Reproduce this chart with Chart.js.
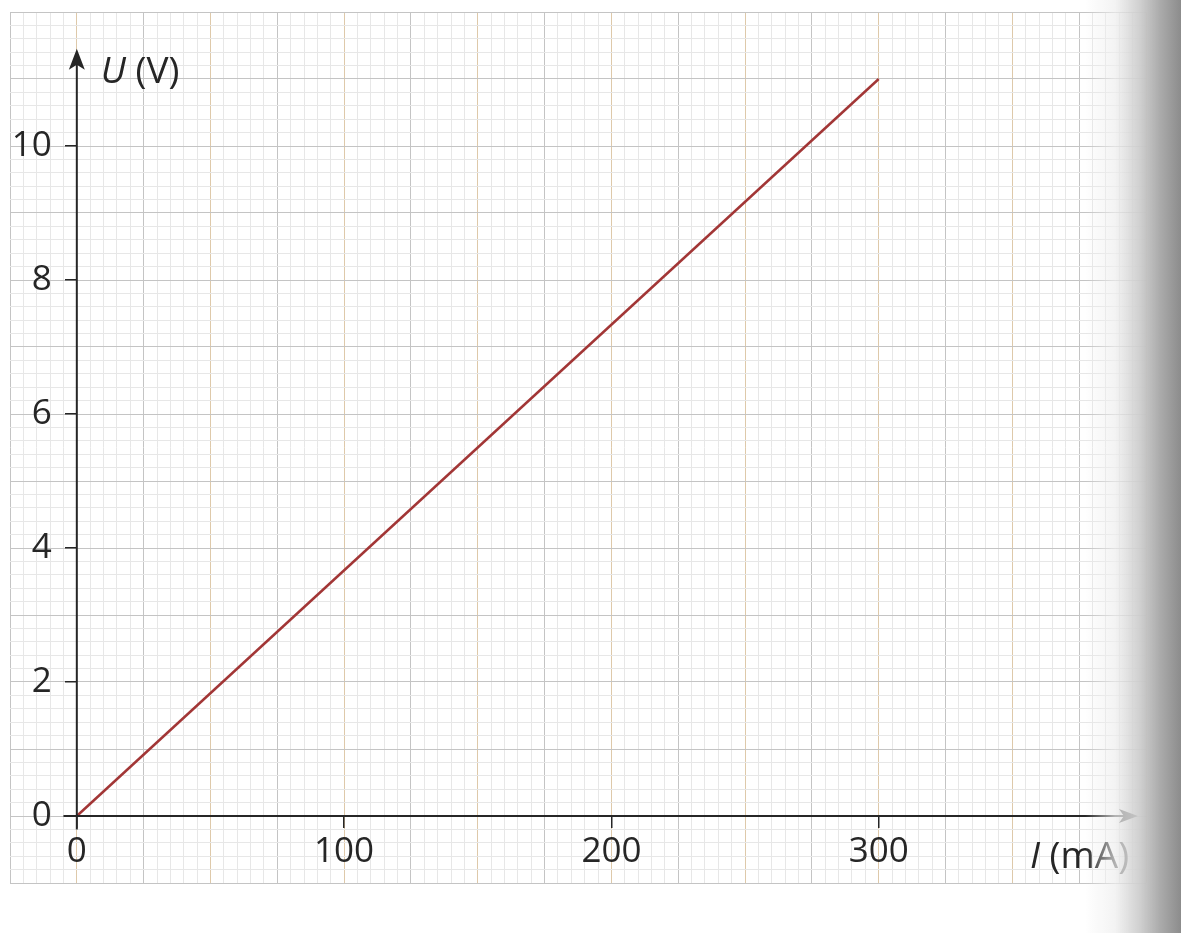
<!DOCTYPE html>
<html><head><meta charset="utf-8">
<script src="https://cdn.jsdelivr.net/npm/chart.js@4/dist/chart.umd.min.js"></script>
<style>
html,body{margin:0;padding:0;background:#fff;}
#wrap{position:relative;width:1181px;height:933px;overflow:hidden;}
#shade{position:absolute;left:0;top:0;width:1181px;height:933px;pointer-events:none;
background:linear-gradient(to right, rgba(255,255,255,0) 1085px, rgba(238,238,238,0.7) 1115px, rgba(205,205,205,0.95) 1140px, #ababab 1160px, #8c8c8c 1181px);}
</style></head><body>
<div id="wrap"><canvas id="c" width="1181" height="933"></canvas><div id="shade"></div></div>
<script>
// Data
const currentI = [0, 300];      // I (mA)
const voltageU = [0, 11];       // U (V)
// Tick labels
const xTickLabels = [0, 100, 200, 300];
const yTickLabels = [0, 2, 4, 6, 8, 10];
// Ranges of the graph paper
const xRange = [-25, 400];
const yRange = [-1, 12];
const xAxisSpan = [-5, 397];
const yAxisSpan = [-0.2, 11.45];

const FONT = "'Open Sans', 'Noto Sans', sans-serif";
const INK = '#262626';
const TICK_FONT = 35;
const TITLE_FONT = 37;

function gridColorX(ctx) {
  const v = Math.round(ctx.tick.value);
  if (v % 50 === 0) return 'rgba(205,172,125,0.65)';
  if (v % 25 === 0) return '#c4c4c4';
  return '#e7e7e7';
}
function gridColorY(ctx) {
  const n = Math.round(ctx.tick.value * 5);
  if (n % 5 === 0) return '#c4c4c4';
  return '#e7e7e7';
}
function zeroPad(s) { s.paddingLeft = 0; s.paddingRight = 0; s.paddingTop = 0; s.paddingBottom = 0; }
// labels of an axis placed at x = 0 are pushed left of the tick marks
function shiftYLabels(s) {
  if (s._shiftPatched) return;
  const orig = s._computeLabelItems.bind(s);
  s._computeLabelItems = (ca) => orig(ca).map(it => { it.options.translation[0] -= 25; return it; });
  s._shiftPatched = true;
}

const axesPlugin = {
  id: 'axesArrows',
  afterDatasetsDraw(chart) {
    const {ctx} = chart;
    const x = chart.scales.x, y = chart.scales.y;
    const x0 = x.getPixelForValue(0), y0 = y.getPixelForValue(0);
    ctx.save();
    ctx.strokeStyle = INK; ctx.fillStyle = INK; ctx.lineWidth = 2;
    // horizontal axis
    const xs = x.getPixelForValue(xAxisSpan[0]), xe = x.getPixelForValue(xAxisSpan[1]);
    ctx.beginPath(); ctx.moveTo(xs, y0); ctx.lineTo(xe - 8, y0); ctx.stroke();
    ctx.beginPath(); ctx.moveTo(xe, y0); ctx.lineTo(xe - 19, y0 - 7); ctx.lineTo(xe - 14, y0); ctx.lineTo(xe - 19, y0 + 7); ctx.closePath(); ctx.fill();
    // vertical axis
    const ys = y.getPixelForValue(yAxisSpan[0]), ye = y.getPixelForValue(yAxisSpan[1]);
    ctx.beginPath(); ctx.moveTo(x0, ys); ctx.lineTo(x0, ye + 8); ctx.stroke();
    ctx.beginPath(); ctx.moveTo(x0, ye); ctx.lineTo(x0 - 8, ye + 21); ctx.lineTo(x0, ye + 16); ctx.lineTo(x0 + 8, ye + 21); ctx.closePath(); ctx.fill();
    // axis titles
    ctx.textBaseline = 'alphabetic';
    ctx.textAlign = 'left';
    let tx = x0 + 24, ty = ye + 34;
    ctx.font = `italic ${TITLE_FONT}px ${FONT}`;
    ctx.fillText('U', tx, ty);
    tx += ctx.measureText('U').width;
    ctx.font = `${TITLE_FONT}px ${FONT}`;
    ctx.fillText(' (V)', tx, ty);
    tx = xe - 108; ty = y0 + 52;
    ctx.font = `italic ${TITLE_FONT}px ${FONT}`;
    ctx.fillText('I', tx, ty);
    tx += ctx.measureText('I').width;
    ctx.font = `${TITLE_FONT}px ${FONT}`;
    ctx.fillText(' (mA)', tx, ty);
    ctx.restore();
  }
};

new Chart(document.getElementById('c'), {
  type: 'line',
  data: {
    datasets: [{
      data: currentI.map((v, i) => ({x: v, y: voltageU[i]})),
      borderColor: '#a23636',
      borderWidth: 2.5,
      pointRadius: 0,
      xAxisID: 'x', yAxisID: 'y'
    }]
  },
  options: {
    responsive: false,
    animation: false,
    devicePixelRatio: 1,
    layout: {padding: {left: 10, top: 12, right: 35, bottom: 50}},
    plugins: {legend: {display: false}, tooltip: {enabled: false}},
    scales: {
      x: {type: 'linear', position: 'bottom', min: xRange[0], max: xRange[1],
          ticks: {display: false, stepSize: 5},
          grid: {color: gridColorX, drawTicks: false, lineWidth: 1},
          border: {display: false}},
      y: {type: 'linear', position: 'left', min: yRange[0], max: yRange[1],
          ticks: {display: false, stepSize: 0.2},
          grid: {color: gridColorY, drawTicks: false, lineWidth: 1},
          border: {display: false}},
      xa: {type: 'linear', axis: 'x', position: {y: 0}, min: xRange[0], max: xRange[1], z: 1,
           afterBuildTicks: s => { s.ticks = xTickLabels.map(v => ({value: v})); },
           afterFit: zeroPad,
           ticks: {padding: 3, color: INK, font: {family: FONT, size: TICK_FONT}, autoSkip: false, maxRotation: 0},
           grid: {drawOnChartArea: false, drawTicks: true, tickLength: 12, color: INK, lineWidth: 1.5},
           border: {display: false}},
      ya: {type: 'linear', axis: 'y', position: {x: 0}, min: yRange[0], max: yRange[1], z: 1,
           afterBuildTicks: s => { s.ticks = yTickLabels.map(v => ({value: v})); },
           afterFit: zeroPad,
           afterUpdate: shiftYLabels,
           ticks: {padding: 12, color: INK, font: {family: FONT, size: TICK_FONT}, autoSkip: false},
           grid: {drawOnChartArea: false, drawTicks: true, tickLength: 12, color: INK, lineWidth: 1.5},
           border: {display: false}}
    }
  },
  plugins: [axesPlugin]
});
</script>
</body></html>
